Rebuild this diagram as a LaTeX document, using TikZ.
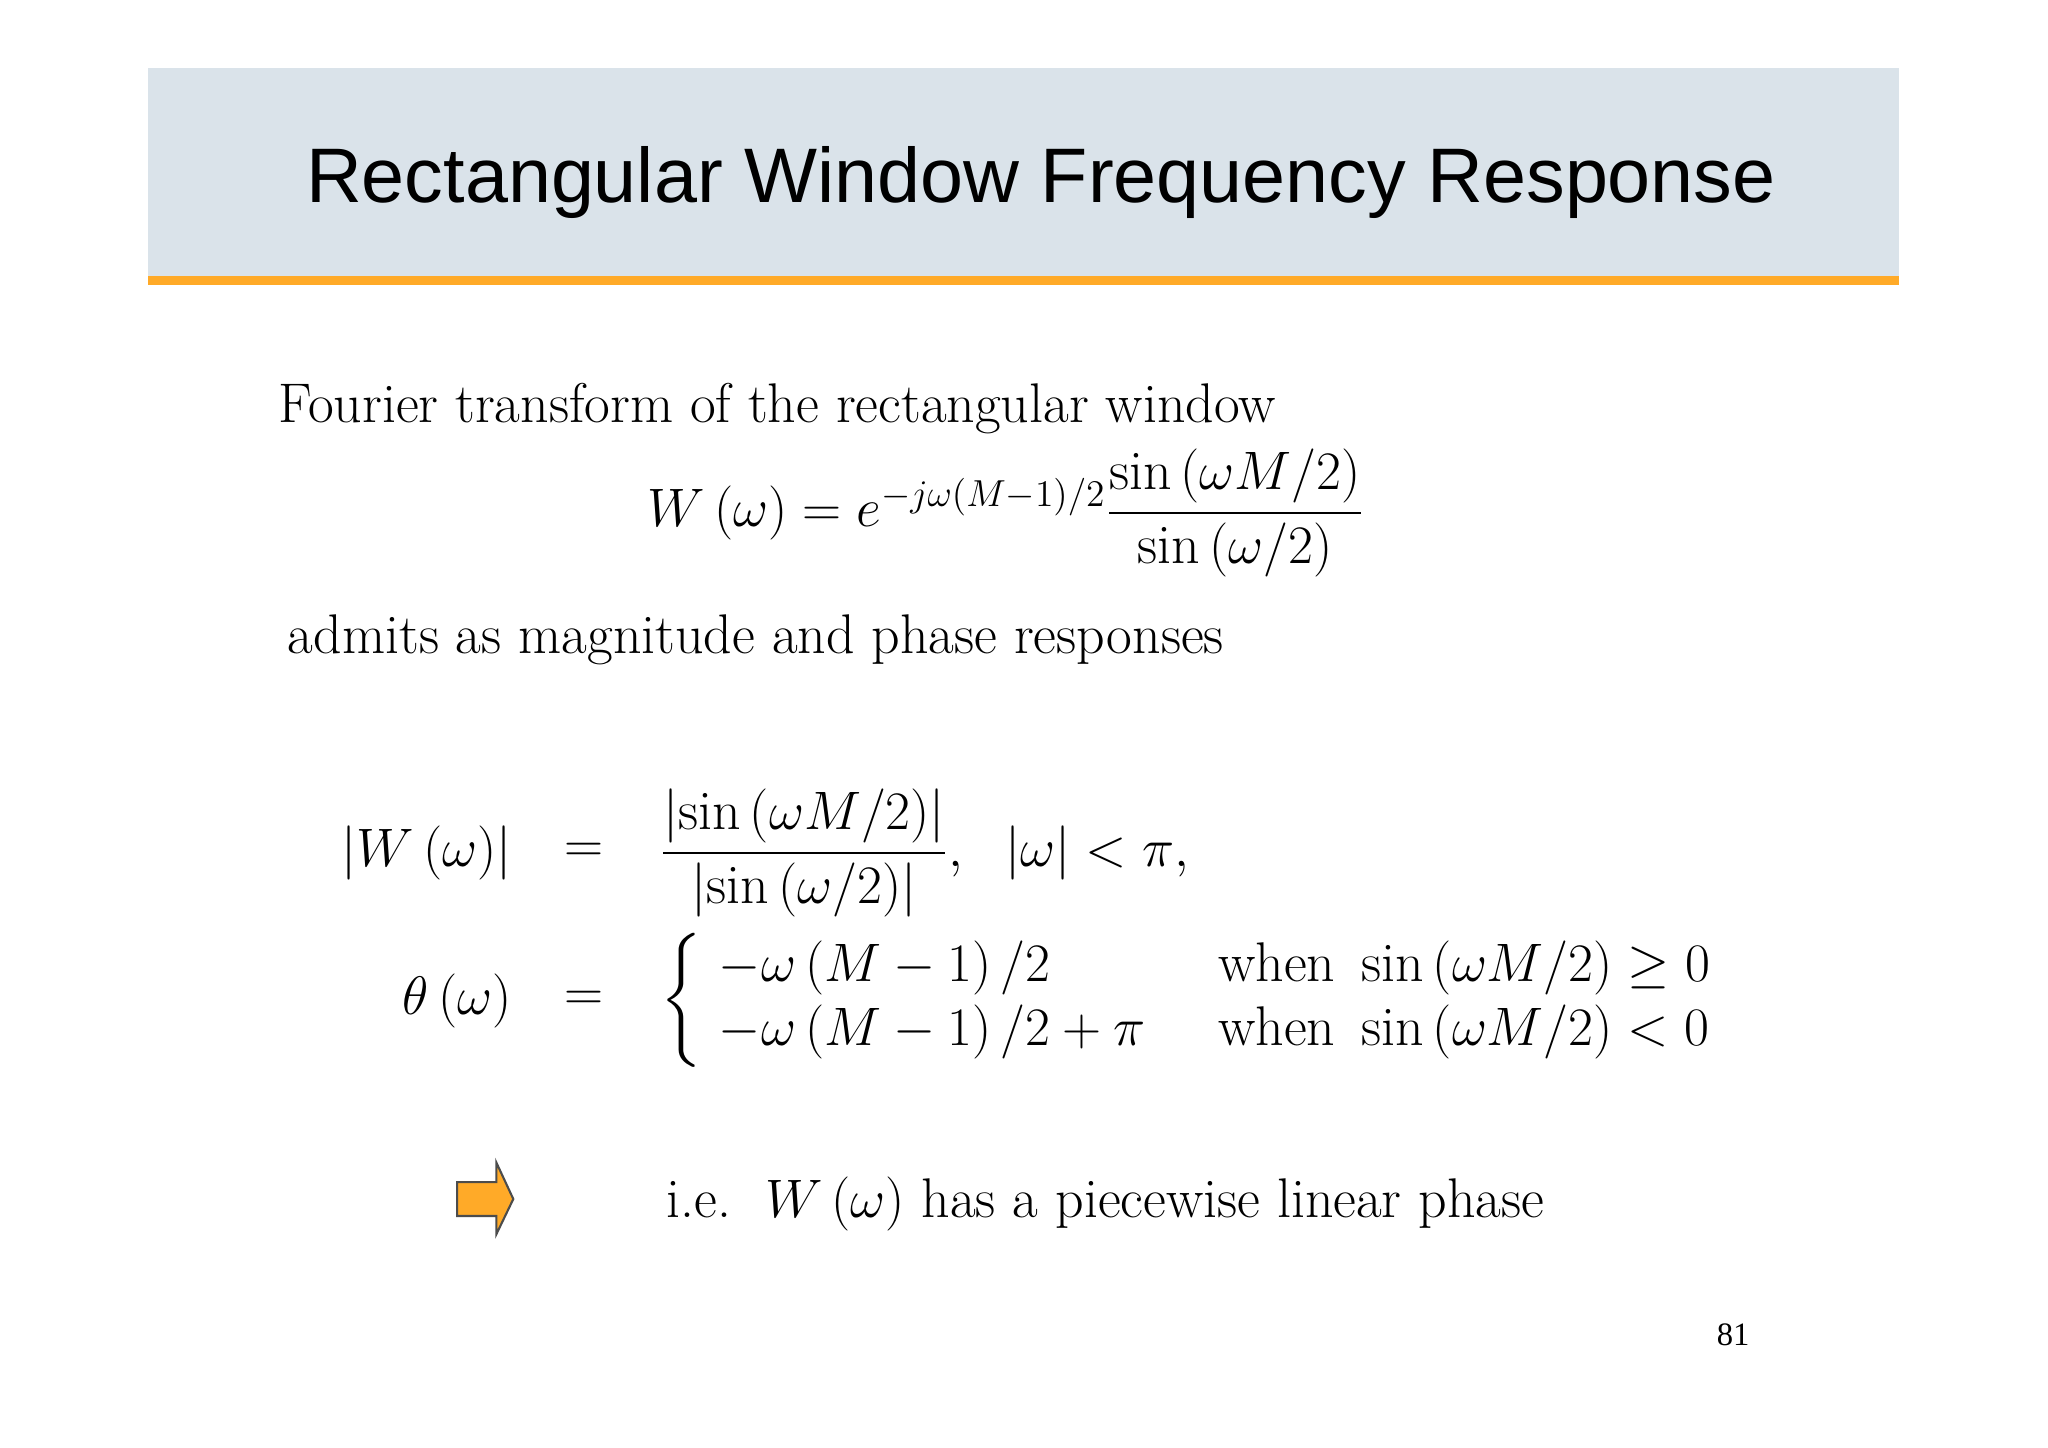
\documentclass[tikz,border=0pt]{standalone}
\usepackage{amsmath,amssymb}
\usepackage{fontspec}
\newfontfamily\titlefont{Liberation Sans}
\newfontfamily\numfont{Liberation Serif}
\definecolor{hdr}{RGB}{218,227,234}
\definecolor{orng}{RGB}{255,170,40}
\begin{document}
\begin{tikzpicture}[x=0.5pt,y=-0.5pt,
  txt/.style={inner sep=0pt,font=\fontsize{21.4}{26}\selectfont}]
\useasboundingbox (0,0) rectangle (1568,1108);
\fill[white] (0,0) rectangle (1568,1108);
\fill[hdr] (113,52) rectangle (1454,212);
\fill[orng] (113,211) rectangle (1454,218);
\node[inner sep=0pt,font=\titlefont\fontsize{29.6}{35}\selectfont] (title) at (797,140) {Rectangular Window Frequency Response};
\node[txt,anchor=west] (l1) at (213,313) {Fourier transform of the rectangular window};
\node[txt] (eq1) at (770,393) {$W\left(\omega\right)=e^{-j\omega\left(M-1\right)/2}\dfrac{\sin\left(\omega M/2\right)}{\sin\left(\omega/2\right)}$};
\node[txt,anchor=west] (l2) at (220,490) {admits as magnitude and phase responses};
\node[txt,anchor=east] (lhs1) at (392,653) {$\left|W\left(\omega\right)\right|$};
\node[txt] (eqa) at (447,653) {$=$};
\node[txt,anchor=west] (rhs1) at (505,653) {$\dfrac{\left|\sin\left(\omega M/2\right)\right|}{\left|\sin\left(\omega/2\right)\right|},\ \ \left|\omega\right|<\pi,$};
\node[txt,anchor=east] (lhs2) at (392,766) {$\theta\left(\omega\right)$};
\node[txt] (eqb) at (447,766) {$=$};
\node[txt,anchor=west] (rhs2) at (505,766) {\renewcommand{\arraystretch}{0.95}$\left\{\begin{array}{@{\ }l@{\quad\ }l}
-\omega\left(M-1\right)/2 & \text{when}\ \sin\left(\omega M/2\right)\geq 0\\
-\omega\left(M-1\right)/2+\pi & \text{when}\ \sin\left(\omega M/2\right)<0
\end{array}\right.$};
\node[txt,anchor=west] (ie) at (510,922) {i.e.\ \ $W\left(\omega\right)$\ has\ a\ piecewise\ linear\ phase};
\draw[fill=orng,draw=black!70,line width=0.8pt] (350,905) -- (380,905) -- (380,890) -- (393,918) -- (380,945) -- (380,931) -- (350,931) -- cycle;
\node[inner sep=0pt,font=\numfont\fontsize{12.5}{14}\selectfont] (pg) at (1327,1022) {81};
\end{tikzpicture}
\end{document}
